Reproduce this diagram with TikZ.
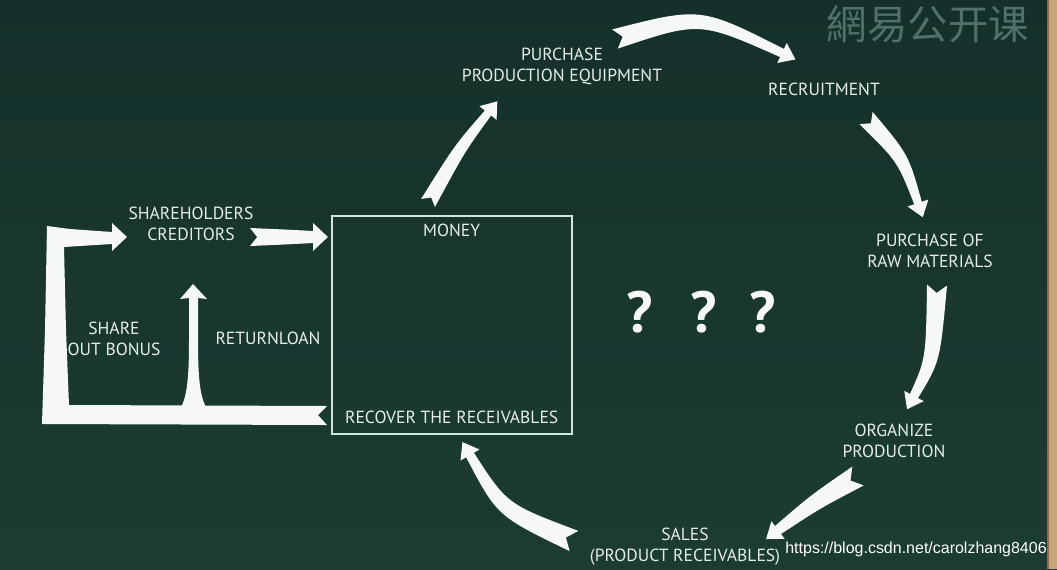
\documentclass[tikz,border=0pt]{standalone}
\usepackage{fontspec}
\setmainfont{PT Sans}
\newfontfamily\cjkfont{Noto Sans CJK SC}
\newfontfamily\urlfont{Liberation Sans}
\usetikzlibrary{calc,positioning}
\definecolor{cBoard}{HTML}{1C3C33}
\definecolor{cBoardTop}{HTML}{15302A}
\definecolor{cChalk}{HTML}{F5F8F6}
\definecolor{cText}{HTML}{E4EDE9}
\definecolor{cLine}{HTML}{D2E6DE}
\definecolor{cMark}{HTML}{52706A}
\definecolor{cWood}{HTML}{C8A57C}
\definecolor{cWoodD}{HTML}{8E6C48}
% tapered chalk arrow: [head half width]{tail}{control}{neck}{tail half width}{neck half width}
\newcommand{\chalkarrow}[6][11]{%
  \coordinate (cdir) at ($(#3)+(#4)-(#2)$);
  \pgfmathsetmacro\midw{(#5+#6)*0.285}
  \fill[chalk] ($(#2)!#5*0.569pt!90:(#3)$) -- ($(#2)!#5*0.455pt!(#3)$)
    -- ($(#2)!#5*0.569pt!-90:(#3)$)
    .. controls ($(#3)!\midw pt!-90:(cdir)$) .. ($(#4)!#6*0.569pt!90:(#3)$)
    -- ($(#4)!#1*0.569pt!90:(#3)$) -- ($(#4)!-8.5pt!(#3)$)
    -- ($(#4)!#1*0.569pt!-90:(#3)$) -- ($(#4)!#6*0.569pt!-90:(#3)$)
    .. controls ($(#3)!\midw pt!90:(cdir)$) .. ($(#2)!#5*0.569pt!90:(#3)$) -- cycle;}

\begin{document}
\begin{tikzpicture}[x=0.02cm,y=-0.02cm,
  lbl/.style={text=cText,font=\fontsize{10}{12}\selectfont,align=center,inner sep=0pt},
  qmark/.style={text=cChalk,font=\fontsize{33}{33}\selectfont\bfseries,inner sep=0pt},
  chalk/.style={fill=cChalk}]
  \useasboundingbox (0,0) rectangle (1057,569);

  % board and frame
  \shade[top color=cBoardTop,bottom color=cBoard] (0,0) rectangle (1057,569);
  \fill[cWood] (1048,0) rectangle (1057,569);
  \draw[cWoodD,line width=1pt] (1048,0) -- (1048,569);
  \node[text=cMark,font=\cjkfont\fontsize{23}{23}\selectfont,inner sep=0pt] (mark) at (928,24) {網易公开课};

  % money box
  \node[draw=cLine,line width=1.1pt,minimum width=4.8cm,minimum height=4.36cm,inner sep=0pt] (money) at (451.7,325) {};
  \node[lbl,below=0.18cm of money.north] (moneylbl) {MONEY};
  \node[lbl,above=0.22cm of money.south] (recover) {RECOVER THE RECEIVABLES};

  % cycle steps
  \node[lbl] (equip) at (562,66) {PURCHASE\\PRODUCTION EQUIPMENT};
  \node[lbl] (recruit) at (824,89) {RECRUITMENT};
  \node[lbl] (raw) at (930,251) {PURCHASE OF\\RAW MATERIALS};
  \node[lbl] (organize) at (894,441) {ORGANIZE\\PRODUCTION};
  \node[lbl] (sales) at (685,547) {SALES\\(PRODUCT RECEIVABLES)};

  % left side
  \node[lbl] (holders) at (191,224) {SHAREHOLDERS\\CREDITORS};
  \node[lbl] (bonus) at (114,339) {SHARE\\OUT BONUS};
  \node[lbl] (loan) at (268,338) {RETURNLOAN};

  \node[qmark] (q1) at (640,312) {?};
  \node[qmark] (q2) at (704,312) {?};
  \node[qmark] (q3) at (763,312) {?};

  % arrow ends
  \coordinate (a1t) at (428,203); \coordinate (a1c) at (460,148); \coordinate (a1n) at (488,113);
  \coordinate (a2t) at (615,39);  \coordinate (a2c) at (700,14);  \coordinate (a2n) at (782,53);
  \coordinate (a3t) at (866,118); \coordinate (a3c) at (903,158); \coordinate (a3n) at (918,203);
  \coordinate (a4t) at (937,285); \coordinate (a4c) at (933,360); \coordinate (a4n) at (914,396);
  \coordinate (a5t) at (858,476); \coordinate (a5c) at (815,502); \coordinate (a5n) at (778,530);
  \coordinate (a6t) at (574,541); \coordinate (a6c) at (502,510); \coordinate (a6n) at (470,455);
  \coordinate (a7t) at (250,237); \coordinate (a7c) at (285,237); \coordinate (a7n) at (313,237);

  \chalkarrow{a1t}{a1c}{a1n}{8}{4}
  \chalkarrow{a2t}{a2c}{a2n}{10}{4.5}
  \chalkarrow{a3t}{a3c}{a3n}{9}{4}
  \chalkarrow{a4t}{a4c}{a4n}{10}{4.5}
  \chalkarrow{a5t}{a5c}{a5n}{11}{5}
  \chalkarrow{a6t}{a6c}{a6n}{11}{4.5}
  \chalkarrow[14]{a7t}{a7c}{a7n}{9}{6}

  % payout loop back to shareholders
  \fill[chalk] (327,406) -- (318,415) -- (327,425) -- (42,424) -- (45,330) -- (47,226)
    -- (70,229) -- (112,232) -- (112,223) -- (127,237) -- (112,251) -- (112,244)
    -- (64,247) -- (66,330) -- (69,405) -- cycle;
  \fill[chalk] (181,407) .. controls (188,395) and (189,370) .. (189,340) -- (189,298)
    -- (180,299) -- (193,284) -- (207,299) -- (198,298) -- (198,340)
    .. controls (198,370) and (199,395) .. (206,407) -- cycle;

  \node[text=white,font=\urlfont\fontsize{9.1}{10}\selectfont,inner sep=0pt] (url) at (916,549) {https://blog.csdn.net/carolzhang8406};
\end{tikzpicture}
\end{document}
